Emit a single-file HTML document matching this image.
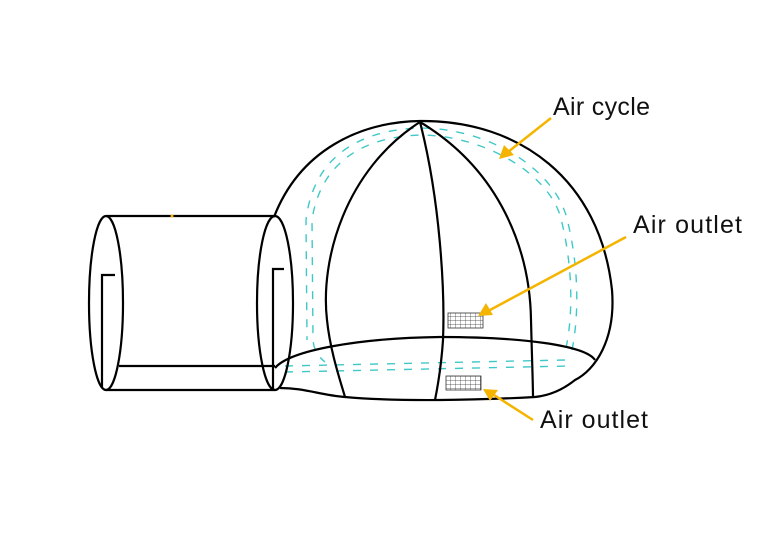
<!DOCTYPE html>
<html><head><meta charset="utf-8"><style>
html,body{margin:0;padding:0;background:#fff;}
svg{display:block;}
text{font-family:"Liberation Sans","DejaVu Sans",sans-serif;font-size:25px;fill:#111;}
</style></head><body>
<svg width="772" height="554" viewBox="0 0 772 554" xmlns="http://www.w3.org/2000/svg">
<defs>
<pattern id="g" width="5" height="4" patternUnits="userSpaceOnUse"><path d="M0 0H5M0 0V4" stroke="#333" stroke-width="0.7" fill="none"/></pattern>
</defs>
<g fill="none" stroke="#40c8c8" stroke-width="1.4" stroke-dasharray="8 9">
<path d="M566 348 C574 310 572 260 560 215 C545 170 480 135 420 135 C360 137 320 165 312 220 L313 340 C314 352 320 358 325 362"/>
<path d="M572 350 C580 310 578 260 566 215 C550 165 485 128 420 128 C355 130 313 160 306 220 L307 340"/>
<path d="M285 366 L565 360"/>
<path d="M285 372 L570 366"/>
</g>
<g fill="none" stroke="#000" stroke-width="2.2">
<ellipse cx="106" cy="303" rx="17" ry="87"/>
<ellipse cx="275" cy="303" rx="18" ry="87"/>
<path d="M106 216H275M106 390H275M119 366H275"/>
<path d="M115 275H102V388M284 269H273V390"/>
<path d="M274 217 C300 150 360 122 420 121 C520 120 600 180 612 290 C616 340 595 370 575 380 C560 392 545 396 535 397"/>
<path d="M535 397 C480 400 400 402 345 397 C320 395 305 388 280 388"/>
<path d="M275 368 C290 350 360 338 440 337 C520 337 585 345 595 360"/>
<path d="M420 122 C345 170 320 260 327 320 C330 350 340 380 345 397"/>
<path d="M420 122 C440 200 445 290 443 340 C441 370 437 390 435 400"/>
<path d="M420 122 C500 170 530 250 531 320 C532 360 533 385 533 397"/>
</g>
<rect x="448" y="313" width="35" height="15" fill="url(#g)" stroke="#333" stroke-width="0.8"/>
<rect x="446" y="376" width="35" height="14" fill="url(#g)" stroke="#333" stroke-width="0.8"/>
<g stroke="#f5b400" stroke-width="2.5" fill="#f5b400">
<line x1="551" y1="118" x2="508" y2="152"/>
<polygon points="499,159 504,145 514,155" stroke="none"/>
<line x1="626" y1="237" x2="490" y2="310"/>
<polygon points="478,316 486,303 493,315" stroke="none"/>
<line x1="533" y1="420" x2="494" y2="395"/>
<polygon points="483,389 498,390 490,401" stroke="none"/>
</g>
<circle cx="172" cy="216" r="1.5" fill="#f5b400"/>
<text x="553" y="115" textLength="97">Air cycle</text>
<text x="633" y="233" textLength="109">Air outlet</text>
<text x="540" y="428" textLength="108">Air outlet</text>
</svg>
</body></html>
